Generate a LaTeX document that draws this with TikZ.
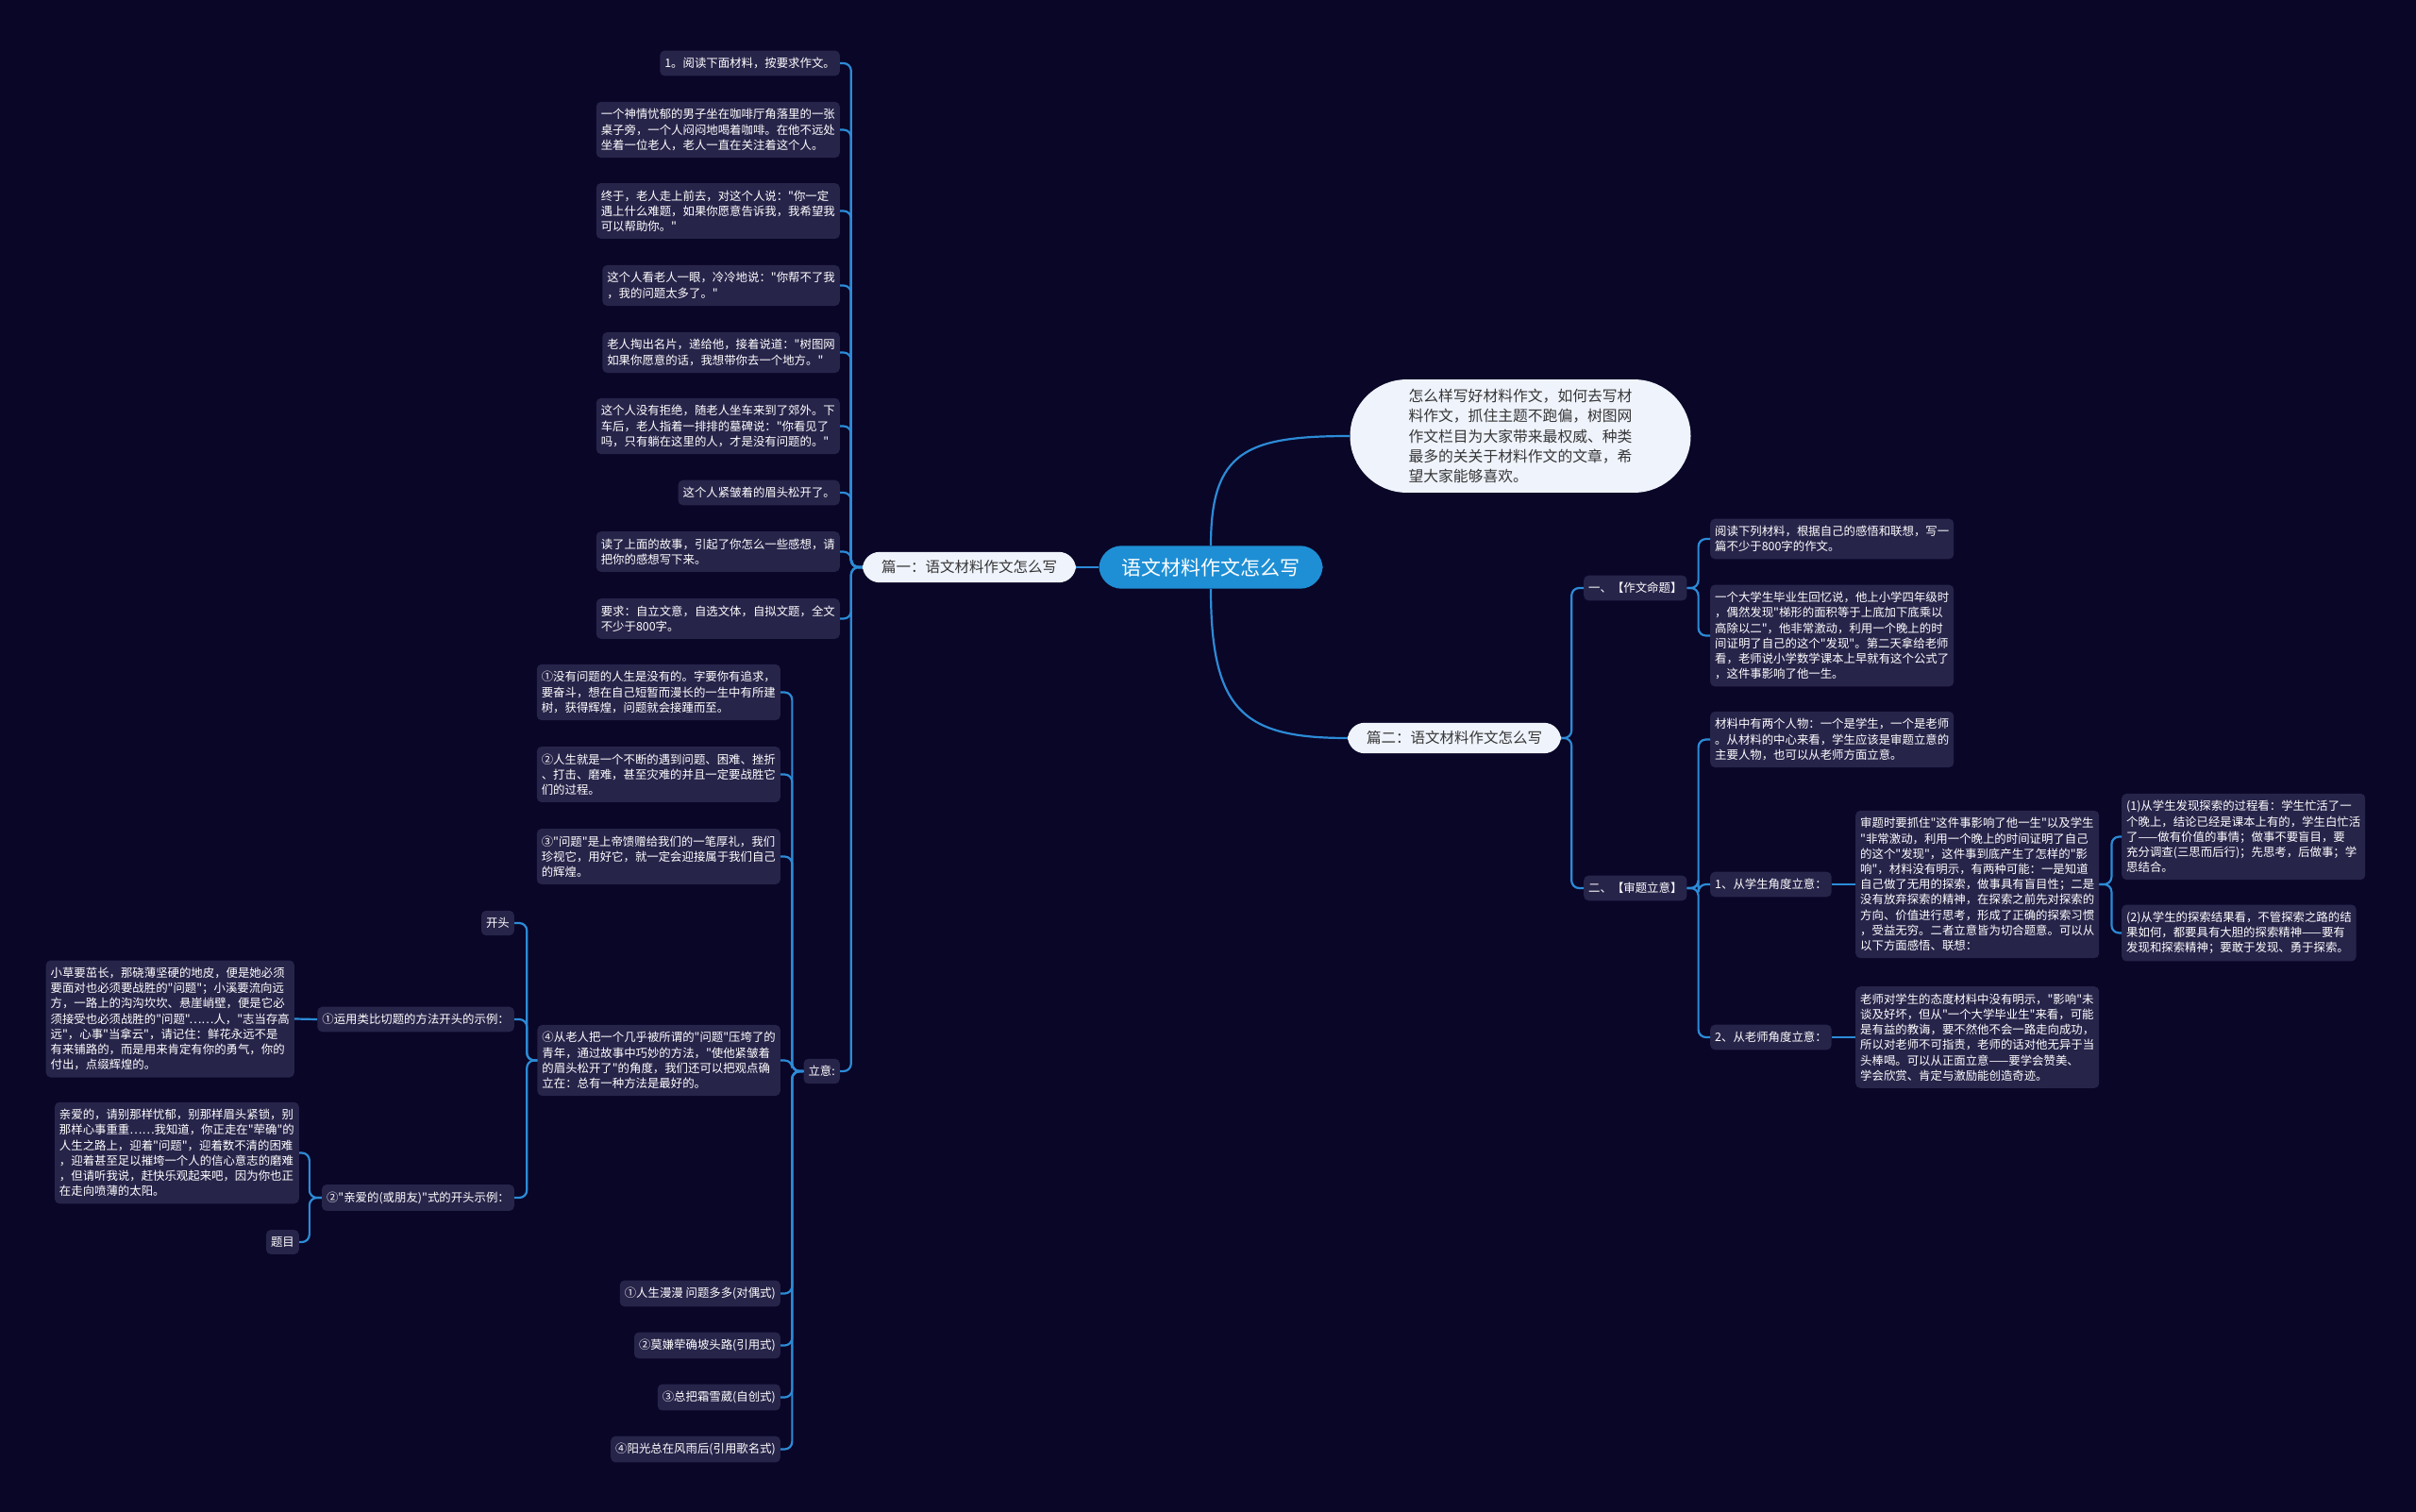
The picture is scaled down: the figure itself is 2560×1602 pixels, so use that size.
\documentclass[tikz,border=0pt]{standalone}
\usepackage{fontspec}
\newfontfamily\zhfont{Noto Sans CJK SC}
\definecolor{bgnavy}{HTML}{0A0628}
\definecolor{leaffill}{HTML}{27244A}
\definecolor{linkblue}{HTML}{2C8BD6}
\definecolor{rootblue}{HTML}{1E8FD5}
\definecolor{paleface}{HTML}{EFF3FC}
\definecolor{darktext}{HTML}{363636}
\begin{document}
\begin{tikzpicture}[
    x=1pt, y=-1pt,
    every node/.style={align=left},
    leaf/.style={rectangle, fill=leaffill, text=white, rounded corners=5pt,
                  inner xsep=5pt, inner ysep=7.5pt, font=\zhfont\fontsize{12.4}{16.2}\selectfont},
    branch/.style={rectangle, fill=paleface, text=darktext, rounded corners=18pt,
                    inner xsep=20pt, inner ysep=9pt, font=\zhfont\fontsize{15.5}{19}\selectfont},
    centre/.style={rectangle, fill=rootblue, text=white, rounded corners=24pt,
                    inner xsep=24pt, inner ysep=13pt, font=\zhfont\fontsize{21}{25}\selectfont},
    blurb/.style={rectangle, fill=paleface, text=darktext, rounded corners=60pt,
                   inner xsep=62pt, inner ysep=10pt, font=\zhfont\fontsize{15.8}{21.3}\selectfont},
    link/.style={draw=linkblue, line width=2.2pt, rounded corners=8pt},
]
\useasboundingbox (0,0) rectangle (2560,1602);
\fill[bgnavy] (0,0) rectangle (2560,1602);
\node[centre] (root) at (1283,601) {语文材料作文怎么写};
\node[blurb] (blurb) at (1611,462) {怎么样写好材料作文，如何去写材\\料作文，抓住主题不跑偏，树图网\\作文栏目为大家带来最权威、种类\\最多的关关于材料作文的文章，希\\望大家能够喜欢。};
\node[branch] (pianyi) at (1027,601) {篇一：语文材料作文怎么写};
\node[branch] (pianer) at (1541,782) {篇二：语文材料作文怎么写};
\node[leaf, anchor=east] (story1) at (890,67) {1。阅读下面材料，按要求作文。};
\node[leaf, anchor=east] (story2) at (890,137.5) {一个神情忧郁的男子坐在咖啡厅角落里的一张\\桌子旁，一个人闷闷地喝着咖啡。在他不远处\\坐着一位老人，老人一直在关注着这个人。};
\node[leaf, anchor=east] (story3) at (890,223.5) {终于，老人走上前去，对这个人说："你一定\\遇上什么难题，如果你愿意告诉我，我希望我\\可以帮助你。"};
\node[leaf, anchor=east] (story4) at (890,302.5) {这个人看老人一眼，冷冷地说："你帮不了我\\，我的问题太多了。"};
\node[leaf, anchor=east] (story5) at (890,373.5) {老人掏出名片，递给他，接着说道："树图网\\如果你愿意的话，我想带你去一个地方。"};
\node[leaf, anchor=east] (story6) at (890,451.5) {这个人没有拒绝，随老人坐车来到了郊外。下\\车后，老人指着一排排的墓碑说："你看见了\\吗，只有躺在这里的人，才是没有问题的。"};
\node[leaf, anchor=east] (story7) at (890,522) {这个人紧皱着的眉头松开了。};
\node[leaf, anchor=east] (story8) at (890,584.5) {读了上面的故事，引起了你怎么一些感想，请\\把你的感想写下来。};
\node[leaf, anchor=east] (story9) at (890,655.5) {要求：自立文意，自选文体，自拟文题，全文\\不少于800字。};
\node[leaf, anchor=east] (liyi) at (890,1135) {立意:};
\node[leaf, anchor=east] (idea1) at (827,733.5) {①没有问题的人生是没有的。字要你有追求，\\要奋斗，想在自己短暂而漫长的一生中有所建\\树，获得辉煌，问题就会接踵而至。};
\node[leaf, anchor=east] (idea2) at (827,820.5) {②人生就是一个不断的遇到问题、困难、挫折\\、打击、磨难，甚至灾难的并且一定要战胜它\\们的过程。};
\node[leaf, anchor=east] (idea3) at (827,907.5) {③"问题"是上帝馈赠给我们的一笔厚礼，我们\\珍视它，用好它，就一定会迎接属于我们自己\\的辉煌。};
\node[leaf, anchor=east] (idea4) at (827,1123.5) {④从老人把一个几乎被所谓的"问题"压垮了的\\青年，通过故事中巧妙的方法，"使他紧皱着\\的眉头松开了"的角度，我们还可以把观点确\\立在：总有一种方法是最好的。};
\node[leaf, anchor=east] (title1) at (827,1370.5) {①人生漫漫 问题多多(对偶式)};
\node[leaf, anchor=east] (title2) at (827,1425.5) {②莫嫌荦确坡头路(引用式)};
\node[leaf, anchor=east] (title3) at (827,1480.5) {③总把霜雪葳(自创式)};
\node[leaf, anchor=east] (title4) at (827,1535.5) {④阳光总在风雨后(引用歌名式)};
\node[leaf, anchor=east] (kaitou) at (545,978) {开头};
\node[leaf, anchor=east] (analogy) at (545,1080) {①运用类比切题的方法开头的示例：};
\node[leaf, anchor=east] (dear) at (545,1269) {②"亲爱的(或朋友)"式的开头示例：};
\node[leaf, anchor=east] (grass) at (312,1079.5) {小草要茁长，那硗薄坚硬的地皮，便是她必须\\要面对也必须要战胜的"问题"；小溪要流向远\\方，一路上的沟沟坎坎、悬崖峭壁，便是它必\\须接受也必须战胜的"问题"……人，"志当存高\\远"，心事"当拿云"，请记住：鲜花永远不是\\有来铺路的，而是用来肯定有你的勇气，你的\\付出，点缀辉煌的。};
\node[leaf, anchor=east] (dearText) at (317,1221.5) {亲爱的，请别那样忧郁，别那样眉头紧锁，别\\那样心事重重……我知道，你正走在"荦确"的\\人生之路上，迎着"问题"，迎着数不清的困难\\，迎着甚至足以摧垮一个人的信心意志的磨难\\，但请听我说，赶快乐观起来吧，因为你也正\\在走向喷薄的太阳。};
\node[leaf, anchor=east] (timu) at (317,1316) {题目};
\node[leaf, anchor=west] (mingti) at (1678,623) {一、【作文命题】};
\node[leaf, anchor=west] (shenti) at (1678,941) {二、【审题立意】};
\node[leaf, anchor=west] (task) at (1812,571) {阅读下列材料，根据自己的感悟和联想，写一\\篇不少于800字的作文。};
\node[leaf, anchor=west] (memory) at (1812,673.5) {一个大学生毕业生回忆说，他上小学四年级时\\，偶然发现"梯形的面积等于上底加下底乘以\\高除以二"，他非常激动，利用一个晚上的时\\间证明了自己的这个"发现"。第二天拿给老师\\看，老师说小学数学课本上早就有这个公式了\\，这件事影响了他一生。};
\node[leaf, anchor=west] (roles) at (1812,783.5) {材料中有两个人物：一个是学生，一个是老师\\。从材料的中心来看，学生应该是审题立意的\\主要人物，也可以从老师方面立意。};
\node[leaf, anchor=west] (student) at (1812,937) {1、从学生角度立意：};
\node[leaf, anchor=west] (teacher) at (1812,1099) {2、从老师角度立意：};
\node[leaf, anchor=west] (studentText) at (1966,937) {审题时要抓住"这件事影响了他一生"以及学生\\"非常激动，利用一个晚上的时间证明了自己\\的这个"发现"，这件事到底产生了怎样的"影\\响"，材料没有明示，有两种可能：一是知道\\自己做了无用的探索，做事具有盲目性；二是\\没有放弃探索的精神，在探索之前先对探索的\\方向、价值进行思考，形成了正确的探索习惯\\，受益无穷。二者立意皆为切合题意。可以从\\以下方面感悟、联想：};
\node[leaf, anchor=west] (teacherText) at (1966,1099) {老师对学生的态度材料中没有明示，"影响"未\\谈及好坏，但从"一个大学毕业生"来看，可能\\是有益的教诲，要不然他不会一路走向成功，\\所以对老师不可指责，老师的话对他无异于当\\头棒喝。可以从正面立意——要学会赞美、\\学会欣赏、肯定与激励能创造奇迹。};
\node[leaf, anchor=west] (process) at (2248,886.5) {(1)从学生发现探索的过程看：学生忙活了一\\个晚上，结论已经是课本上有的，学生白忙活\\了——做有价值的事情；做事不要盲目，要\\充分调查(三思而后行)；先思考，后做事；学\\思结合。};
\node[leaf, anchor=west] (result) at (2248,988.5) {(2)从学生的探索结果看，不管探索之路的结\\果如何，都要具有大胆的探索精神——要有\\发现和探索精神；要敢于发现、勇于探索。};
\draw[link] (root.west) -- (pianyi.east);
\draw[link] (root.north) .. controls +(0,-100) and +(-110,0) .. (blurb.west);
\draw[link] (root.south) .. controls +(0,130) and +(-110,0) .. (pianer.west);
\draw[link] (pianyi.west) -- ++(-12,0) |- (story1.east);
\draw[link] (pianyi.west) -- ++(-12,0) |- (story2.east);
\draw[link] (pianyi.west) -- ++(-12,0) |- (story3.east);
\draw[link] (pianyi.west) -- ++(-12,0) |- (story4.east);
\draw[link] (pianyi.west) -- ++(-12,0) |- (story5.east);
\draw[link] (pianyi.west) -- ++(-12,0) |- (story6.east);
\draw[link] (pianyi.west) -- ++(-12,0) |- (story7.east);
\draw[link] (pianyi.west) -- ++(-12,0) |- (story8.east);
\draw[link] (pianyi.west) -- ++(-12,0) |- (story9.east);
\draw[link] (pianyi.west) -- ++(-12,0) |- (liyi.east);
\draw[link] (liyi.west) -- ++(-12,0) |- (idea1.east);
\draw[link] (liyi.west) -- ++(-12,0) |- (idea2.east);
\draw[link] (liyi.west) -- ++(-12,0) |- (idea3.east);
\draw[link] (liyi.west) -- ++(-12,0) |- (idea4.east);
\draw[link] (liyi.west) -- ++(-12,0) |- (title1.east);
\draw[link] (liyi.west) -- ++(-12,0) |- (title2.east);
\draw[link] (liyi.west) -- ++(-12,0) |- (title3.east);
\draw[link] (liyi.west) -- ++(-12,0) |- (title4.east);
\draw[link] (idea4.west) -- ++(-11,0) |- (kaitou.east);
\draw[link] (idea4.west) -- ++(-11,0) |- (analogy.east);
\draw[link] (idea4.west) -- ++(-11,0) |- (dear.east);
\draw[link] (analogy.west) -- (grass.east);
\draw[link] (dear.west) -- ++(-13,0) |- (dearText.east);
\draw[link] (dear.west) -- ++(-13,0) |- (timu.east);
\draw[link] (pianer.east) -- ++(11,0) |- (mingti.west);
\draw[link] (pianer.east) -- ++(11,0) |- (shenti.west);
\draw[link] (mingti.east) -- ++(12,0) |- (task.west);
\draw[link] (mingti.east) -- ++(12,0) |- (memory.west);
\draw[link] (shenti.east) -- ++(12,0) |- (roles.west);
\draw[link] (shenti.east) -- ++(12,0) |- (student.west);
\draw[link] (shenti.east) -- ++(12,0) |- (teacher.west);
\draw[link] (student.east) -- (studentText.west);
\draw[link] (teacher.east) -- (teacherText.west);
\draw[link] (studentText.east) -- ++(13,0) |- (process.west);
\draw[link] (studentText.east) -- ++(13,0) |- (result.west);
\end{tikzpicture}
\end{document}
